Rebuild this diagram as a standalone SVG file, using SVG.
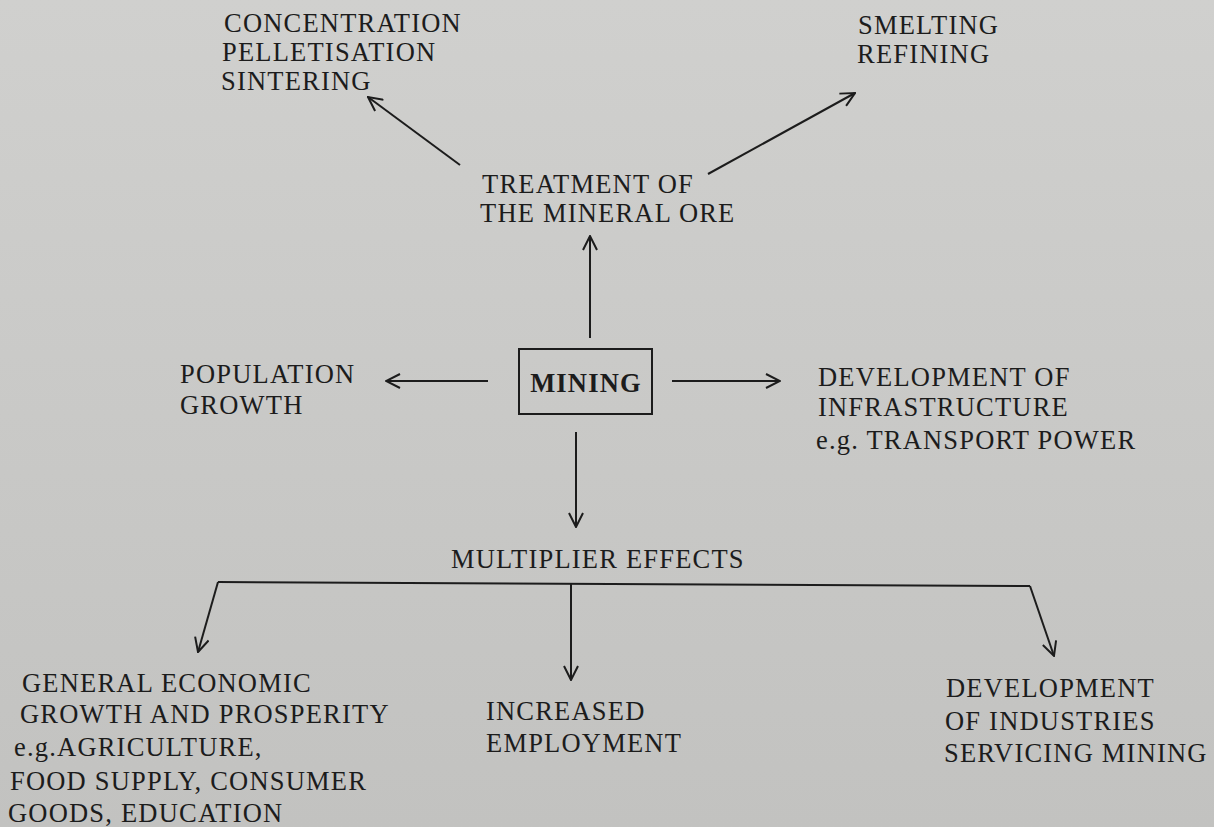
<svg xmlns="http://www.w3.org/2000/svg" width="1214" height="827" viewBox="0 0 1214 827">
<defs>
<style>
.t{font-family:"Liberation Serif","Times New Roman",serif;font-size:26.5px;fill:#1c1c1c;letter-spacing:1.2px}
.b{font-weight:bold}
.c{stroke:#1c1c1c;stroke-width:2;fill:none}
</style>
<marker id="ah" viewBox="0 0 16 16" refX="15" refY="8" markerWidth="16" markerHeight="16" markerUnits="userSpaceOnUse" orient="auto">
<path d="M1,1 L15,8 L1,15" fill="none" stroke="#1c1c1c" stroke-width="2"/>
</marker>
<linearGradient id="bg" x1="0" y1="0" x2="0" y2="1">
<stop offset="0" stop-color="#d0d0ce"/>
<stop offset="0.5" stop-color="#c9c9c7"/>
<stop offset="1" stop-color="#c2c2c0"/>
</linearGradient>
</defs>
<rect width="1214" height="827" fill="url(#bg)"/>

<g id="connectors">
<line class="c" x1="460" y1="165" x2="368" y2="97" marker-end="url(#ah)"/>
<line class="c" x1="708" y1="174" x2="855" y2="93" marker-end="url(#ah)"/>
<line class="c" x1="590" y1="338" x2="590" y2="236" marker-end="url(#ah)"/>
<line class="c" x1="488" y1="381" x2="386" y2="381" marker-end="url(#ah)"/>
<line class="c" x1="672" y1="381" x2="780" y2="381" marker-end="url(#ah)"/>
<line class="c" x1="576" y1="432" x2="576" y2="527" marker-end="url(#ah)"/>
<polyline class="c" points="218,582 1030,586"/>
<line class="c" x1="218" y1="582" x2="198" y2="652" marker-end="url(#ah)"/>
<line class="c" x1="571" y1="583" x2="571" y2="680" marker-end="url(#ah)"/>
<line class="c" x1="1030" y1="586" x2="1054" y2="656" marker-end="url(#ah)"/>
</g>

<g id="treatment-processes">
<text class="t" x="224" y="32">CONCENTRATION</text>
<text class="t" x="222" y="61">PELLETISATION</text>
<text class="t" x="221" y="90">SINTERING</text>
</g>
<g id="smelting">
<text class="t" x="858" y="34">SMELTING</text>
<text class="t" x="857" y="63">REFINING</text>
</g>
<g id="treatment">
<text class="t" x="482" y="193">TREATMENT OF</text>
<text class="t" x="480" y="222">THE MINERAL ORE</text>
</g>
<g id="population">
<text class="t" x="180" y="383">POPULATION</text>
<text class="t" x="180" y="414">GROWTH</text>
</g>
<g id="mining">
<rect x="519" y="349" width="133" height="65" fill="none" stroke="#1c1c1c" stroke-width="2"/>
<text class="t b" x="586" y="392" text-anchor="middle" letter-spacing="0.5">MINING</text>
</g>
<g id="infrastructure">
<text class="t" x="818" y="386">DEVELOPMENT OF</text>
<text class="t" x="818" y="416">INFRASTRUCTURE</text>
<text class="t" x="816" y="449">e.g. TRANSPORT POWER</text>
</g>
<g id="multiplier">
<text class="t" x="451" y="568">MULTIPLIER EFFECTS</text>
</g>
<g id="general-growth">
<text class="t" x="22" y="692">GENERAL ECONOMIC</text>
<text class="t" x="20" y="723">GROWTH AND PROSPERITY</text>
<text class="t" x="14" y="756">e.g.AGRICULTURE,</text>
<text class="t" x="10" y="790">FOOD SUPPLY, CONSUMER</text>
<text class="t" x="8" y="822">GOODS, EDUCATION</text>
</g>
<g id="employment">
<text class="t" x="486" y="720">INCREASED</text>
<text class="t" x="486" y="752">EMPLOYMENT</text>
</g>
<g id="industries">
<text class="t" x="946" y="697">DEVELOPMENT</text>
<text class="t" x="945" y="730">OF INDUSTRIES</text>
<text class="t" x="944" y="762">SERVICING MINING</text>
</g>
</svg>
